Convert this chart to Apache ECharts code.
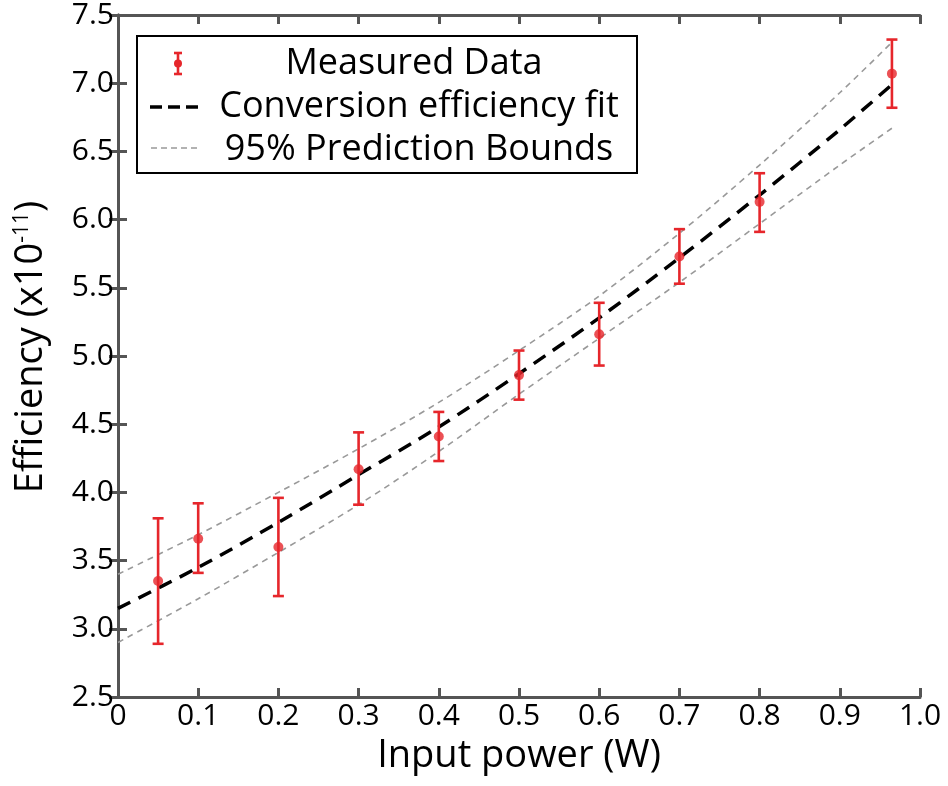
<!DOCTYPE html>
<html>
<head>
<meta charset="utf-8">
<script src="https://cdn.jsdelivr.net/npm/echarts@6/dist/echarts.min.js"></script>
<style>
  html, body { margin: 0; padding: 0; background: #fff; }
  #chart { width: 948px; height: 786px; }
</style>
</head>
<body>
<div id="chart"></div>
<script>
// Measured conversion efficiency (x1e-11) with error bars
const measuredPower = [0.05, 0.1, 0.2, 0.3, 0.4, 0.5, 0.6, 0.7, 0.8, 0.965];
const measuredEff   = [3.35, 3.66, 3.60, 4.17, 4.41, 4.86, 5.16, 5.73, 6.13, 7.07];
const errLow        = [2.89, 3.41, 3.24, 3.91, 4.23, 4.68, 4.93, 5.53, 5.91, 6.82];
const errHigh       = [3.81, 3.92, 3.96, 4.44, 4.59, 5.04, 5.39, 5.93, 6.34, 7.32];

// Fit curve and 95% prediction bounds
const fitPower  = [0, 0.1, 0.2, 0.3, 0.4, 0.5, 0.6, 0.7, 0.8, 0.9, 0.965];
const fitEff    = [3.15, 3.45, 3.78, 4.13, 4.48, 4.87, 5.28, 5.72, 6.18, 6.66, 6.99];
const boundUp   = [3.40, 3.69, 4.00, 4.32, 4.66, 5.04, 5.44, 5.90, 6.40, 6.93, 7.30];
const boundLow  = [2.90, 3.22, 3.56, 3.91, 4.30, 4.72, 5.13, 5.54, 5.97, 6.40, 6.67];

const xTicks = { min: 0, max: 1, interval: 0.1 };
const yTicks = { min: 2.5, max: 7.5, interval: 0.5 };

const FONT = '"Open Sans", sans-serif';
const AXIS_COLOR = '#555555';
const RED = '#e6262b';

const chart = echarts.init(document.getElementById('chart'), null, { renderer: 'canvas' });

const pairs = (xs, ys) => xs.map((x, i) => [x, ys[i]]);

const axisLine = { show: true, lineStyle: { color: AXIS_COLOR, width: 3 } };
const axisTick = { show: true, inside: true, length: 9, lineStyle: { color: AXIS_COLOR, width: 3 } };

const option = {
  animation: false,
  backgroundColor: '#ffffff',
  grid: { left: 118, right: 28, top: 13, bottom: 89, containLabel: false },
  xAxis: [
    {
      type: 'value', position: 'bottom', ...xTicks,
      axisLine, axisTick, splitLine: { show: false },
      axisLabel: {
        color: '#000', fontFamily: FONT, fontSize: 30, margin: 4,
        formatter: v => (v === 0 ? '0' : v.toFixed(1))
      }
    },
    {
      type: 'value', position: 'top', ...xTicks,
      axisLine, axisTick, splitLine: { show: false }, axisLabel: { show: false }
    }
  ],
  yAxis: [
    {
      type: 'value', position: 'left', ...yTicks,
      axisLine, axisTick, splitLine: { show: false },
      axisLabel: {
        color: '#000', fontFamily: FONT, fontSize: 30, margin: 4,
        formatter: v => v.toFixed(1)
      }
    },
    {
      type: 'value', position: 'right', ...yTicks,
      axisLine, axisTick, splitLine: { show: false }, axisLabel: { show: false }
    }
  ],
  series: [
    {
      name: 'Upper bound', type: 'line', data: pairs(fitPower, boundUp),
      showSymbol: false, smooth: 0.3, z: 2,
      lineStyle: { color: '#999999', width: 1.6, type: [6, 5] }
    },
    {
      name: 'Lower bound', type: 'line', data: pairs(fitPower, boundLow),
      showSymbol: false, smooth: 0.3, z: 2,
      lineStyle: { color: '#999999', width: 1.6, type: [6, 5] }
    },
    {
      name: 'Conversion efficiency fit', type: 'line', data: pairs(fitPower, fitEff),
      showSymbol: false, smooth: 0.3, z: 3,
      lineStyle: { color: '#000000', width: 3.5, type: [14, 9] }
    },
    {
      name: 'Error bars', type: 'custom', z: 4,
      data: measuredPower.map((x, i) => [x, errLow[i], errHigh[i]]),
      encode: { x: 0, y: [1, 2] },
      renderItem: (params, api) => {
        const x = api.value(0);
        const lo = api.coord([x, api.value(1)]);
        const hi = api.coord([x, api.value(2)]);
        const hw = 5.5;
        const style = { stroke: RED, lineWidth: 2.6 };
        return {
          type: 'group',
          children: [
            { type: 'line', shape: { x1: lo[0], y1: lo[1], x2: hi[0], y2: hi[1] }, style },
            { type: 'line', shape: { x1: hi[0] - hw, y1: hi[1], x2: hi[0] + hw, y2: hi[1] }, style },
            { type: 'line', shape: { x1: lo[0] - hw, y1: lo[1], x2: lo[0] + hw, y2: lo[1] }, style }
          ]
        };
      }
    },
    {
      name: 'Measured Data', type: 'scatter', z: 5,
      data: pairs(measuredPower, measuredEff),
      symbol: 'circle', symbolSize: 10,
      itemStyle: { color: RED }
    }
  ],
  graphic: [
    // axis titles
    {
      type: 'text', z: 10, x: 519, y: 756,
      style: {
        text: 'Input power (W)', fontFamily: FONT, fontSize: 38, fill: '#000',
        align: 'center', verticalAlign: 'middle'
      }
    },
    {
      type: 'text', z: 10, x: 31, y: 347, rotation: Math.PI / 2,
      style: {
        text: 'Efficiency (x10{sup|-11})', fontFamily: FONT, fontSize: 38, fill: '#000',
        align: 'center', verticalAlign: 'middle',
        rich: { sup: { fontFamily: FONT, fontSize: 21, verticalAlign: 'top', padding: [0, 0, 16, 0] } }
      }
    },
    // legend box
    {
      type: 'rect', z: 10,
      shape: { x: 137, y: 36, width: 500, height: 137 },
      style: { fill: '#fff', stroke: '#000', lineWidth: 2 }
    },
    // legend: error bar icon
    { type: 'line', z: 11, shape: { x1: 178, y1: 53, x2: 178, y2: 74 }, style: { stroke: RED, lineWidth: 2.6 } },
    { type: 'line', z: 11, shape: { x1: 174, y1: 53, x2: 182, y2: 53 }, style: { stroke: RED, lineWidth: 2.6 } },
    { type: 'line', z: 11, shape: { x1: 174, y1: 74, x2: 182, y2: 74 }, style: { stroke: RED, lineWidth: 2.6 } },
    { type: 'circle', z: 11, shape: { cx: 178, cy: 63.5, r: 4 }, style: { fill: RED } },
    // legend: fit line icon
    { type: 'line', z: 11, shape: { x1: 150, y1: 107, x2: 199, y2: 107 }, style: { stroke: '#000', lineWidth: 3.5, lineDash: [12, 6] } },
    // legend: bound line icon
    { type: 'line', z: 11, shape: { x1: 151, y1: 148, x2: 199, y2: 148 }, style: { stroke: '#999', lineWidth: 1.6, lineDash: [6, 4] } },
    // legend labels
    { type: 'text', z: 11, x: 414, y: 64, style: { text: 'Measured Data', fontFamily: FONT, fontSize: 36, fill: '#000', align: 'center', verticalAlign: 'middle' } },
    { type: 'text', z: 11, x: 419, y: 107, style: { text: 'Conversion efficiency fit', fontFamily: FONT, fontSize: 36, fill: '#000', align: 'center', verticalAlign: 'middle' } },
    { type: 'text', z: 11, x: 419, y: 150, style: { text: '95% Prediction Bounds', fontFamily: FONT, fontSize: 36, fill: '#000', align: 'center', verticalAlign: 'middle' } }
  ]
};

chart.setOption(option);
</script>
</body>
</html>
